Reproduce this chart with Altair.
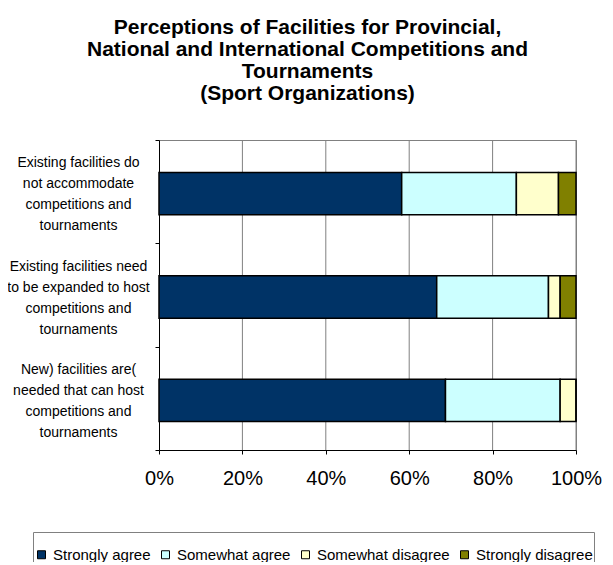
import altair as alt
import pandas as pd

statements = [
    ["Existing facilities do", "not accommodate", "competitions and", "tournaments"],
    ["Existing facilities need", "to be expanded to host", "competitions and", "tournaments"],
    ["New) facilities are(", "needed that can host", "competitions and", "tournaments"],
]
responses = ["Strongly agree", "Somewhat agree", "Somewhat disagree", "Strongly disagree"]
colors = ["#003366", "#CCFFFF", "#FFFFCC", "#808000"]

strongly_agree = [58.2, 66.6, 68.7]
somewhat_agree = [27.5, 26.8, 27.5]
somewhat_disagree = [10.1, 2.8, 3.8]
strongly_disagree = [4.2, 3.8, 0.0]

grid_values = [0.2, 0.4, 0.6, 0.8, 1.0]
tick_values = [0, 0.2, 0.4, 0.6, 0.8, 1.0]

series = [strongly_agree, somewhat_agree, somewhat_disagree, strongly_disagree]
labels = ["|".join(s) for s in statements]

rows = []
for ri, (resp, vals) in enumerate(zip(responses, series)):
    for lab, v in zip(labels, vals):
        rows.append({"statement": lab, "response": resp, "value": v, "order": ri})
df = pd.DataFrame(rows)
grid_df = pd.DataFrame({"g": grid_values})

FONT = "Liberation Sans"
xscale = alt.Scale(domain=[0, 1], nice=False)
xaxis = alt.Axis(
    title=None,
    format=".0%",
    values=tick_values,
    labelFontSize=20,
    labelFont=FONT,
    labelColor="black",
    labelPadding=14,
    labelFlush=False,
    tickSize=4,
    tickColor="black",
    domainColor="black",
    grid=False,
)

grid = alt.Chart(grid_df).mark_rule(color="#808080", strokeWidth=1).encode(
    x=alt.X("g:Q", scale=xscale, axis=xaxis),
)

bars = alt.Chart(df).mark_bar(
    stroke="black", strokeWidth=1.5, height={"band": 0.41}, yOffset=2
).encode(
    y=alt.Y(
        "statement:N",
        sort=labels,
        scale=alt.Scale(paddingInner=0, paddingOuter=0),
        axis=alt.Axis(
            title=None,
            labelExpr="split(datum.label, '|')",
            labelAlign="center",
            labelBaseline="middle",
            labelPadding=77,
            labelOffset=-29,
            labelLineHeight=21,
            labelFontSize=14,
            labelFont=FONT,
            labelColor="black",
            labelLimit=300,
            tickBand="extent",
            ticks=True,
            tickSize=4,
            tickColor="black",
            domainColor="black",
            grid=False,
        ),
    ),
    x=alt.X("value:Q", stack="normalize", scale=xscale, axis=xaxis),
    color=alt.Color(
        "response:N",
        scale=alt.Scale(domain=responses, range=colors),
        legend=alt.Legend(
            title=" ",
            titleFontSize=8,
            titlePadding=6,
            orient="none",
            legendX=-126,
            legendY=392,
            direction="horizontal",
            columns=4,
            columnPadding=7,
            symbolType="square",
            symbolSize=64,
            symbolStrokeColor="black",
            symbolStrokeWidth=1,
            symbolOpacity=1,
            labelFontSize=15,
            labelFont=FONT,
            labelColor="black",
            labelOffset=4,
            labelLimit=300,
            padding=1,
            strokeColor="#808080",
            fillColor="white",
        ),
    ),
    order=alt.Order("order:Q"),
)

chart = alt.layer(grid, bars).properties(
    width=417,
    height=310,
    title=alt.TitleParams(
        text=[
            "Perceptions of Facilities for Provincial,",
            "National and International Competitions and",
            "Tournaments",
            "(Sport Organizations)",
        ],
        fontSize=21,
        fontWeight="bold",
        font=FONT,
        color="black",
        anchor="middle",
        dx=-60,
        offset=29,
        lineHeight=22,
    ),
    autosize=alt.AutoSizeParams(type="none"),
    padding={"left": 151, "top": 132, "right": 29, "bottom": 112},
).configure_view(
    stroke="#808080",
    strokeWidth=1,
)

chart.save("out.html", embed_options={"renderer": "svg", "actions": False})
